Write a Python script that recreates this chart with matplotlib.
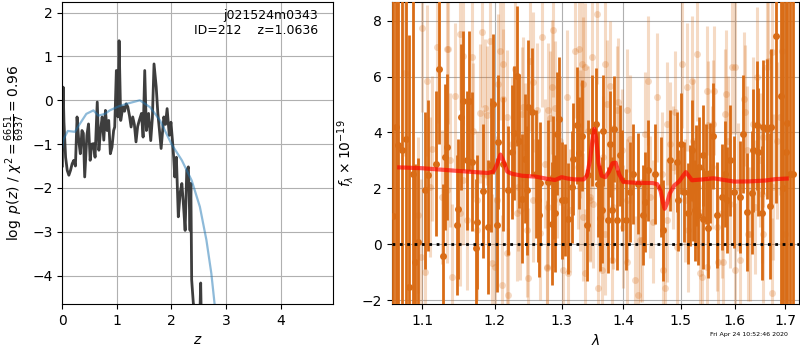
import matplotlib
matplotlib.use('Agg')
import matplotlib.pyplot as plt
from matplotlib.ticker import FixedLocator, FormatStrFormatter, NullLocator

# --- p(z) panel ---
z_chi = [0.00, 0.015, 0.03, 0.06, 0.09, 0.12, 0.15, 0.18, 0.21, 0.24,
         0.27, 0.30, 0.33, 0.36, 0.385, 0.41, 0.45, 0.48, 0.51, 0.54,
         0.57, 0.60, 0.64, 0.67, 0.70, 0.73, 0.76, 0.79, 0.82, 0.85,
         0.88, 0.91, 0.94, 0.96, 0.99, 1.02, 1.04, 1.07, 1.11, 1.14,
         1.17, 1.20, 1.23, 1.26, 1.29, 1.32, 1.35, 1.38, 1.41, 1.45,
         1.48, 1.51, 1.54, 1.58, 1.62, 1.65, 1.68, 1.72, 1.75, 1.78,
         1.81, 1.86, 1.89, 1.92, 1.96, 1.99, 2.02, 2.04, 2.06, 2.09,
         2.125, 2.16, 2.19, 2.22, 2.25, 2.28, 2.31, 2.34, 2.355, 2.37,
         2.40, 2.45, 2.52, 2.535, 2.545, 2.56]
logpz_chi = [-1.50, 0.30, -0.50, -1.30, -1.60, -1.71, -1.60, -1.45, -1.37, -1.50,
             -0.38, -0.91, -1.22, -0.69, -0.75, -1.75, -0.80, -0.54, -1.37, -1.00,
             -0.99, -1.30, -0.04, -1.14, -0.69, -0.38, -0.91, -0.23, -0.69, -0.46,
             -1.22, -1.07, -0.69, -0.61, 0.68, -0.38, 1.36, -0.46, -0.15, -0.25,
             -0.08, -0.15, -0.35, -0.61, -0.38, -0.55, -0.95, -0.60, -0.46, -0.30,
             -0.84, 0.68, -0.69, -0.30, -0.92, -0.40, 0.83, 0.31, -0.30, -0.69,
             -1.10, -0.38, -0.55, -0.19, -0.80, -0.50, -0.95, -1.30, -1.75, -1.30,
             -2.66, -2.10, -1.90, -2.40, -2.97, -1.60, -1.52, -2.97, -1.90, -4.10,
             -4.63, -4.90, -4.90, -4.17, -4.90, -4.90]

z_prior = [0.00, 0.02, 0.10, 0.23, 0.32, 0.44, 0.57, 0.66, 0.78, 0.87,
           1.03, 1.18, 1.42, 1.61, 1.79, 2.00, 2.19, 2.37, 2.52, 2.64,
           2.73, 2.79, 2.84]
logpz_prior = [-1.07, -0.90, -0.70, -0.72, -0.54, -0.31, -0.23, -0.35, -0.31, -0.23,
               -0.14, -0.08, 0.00, -0.16, -0.46, -1.00, -1.37, -1.83, -2.43, -3.19,
               -3.95, -4.65, -5.40]

# --- spectrum panel ---
dark_wave = [1.0624, 1.0655, 1.0688, 1.0731, 1.0787, 1.0825, 1.0873, 1.0903, 1.0947, 1.1036,
             1.1070, 1.1181, 1.1227, 1.1272, 1.1304, 1.1326, 1.1462, 1.1485, 1.1517, 1.1545,
             1.1601, 1.1638, 1.1671, 1.1727, 1.1741, 1.1830, 1.1906, 1.1940, 1.1968, 1.2035,
             1.2049, 1.2113, 1.2195, 1.2244, 1.2278, 1.2318, 1.2357, 1.2392, 1.2441, 1.2475,
             1.2491, 1.2541, 1.2606, 1.2630, 1.2652, 1.2667, 1.2794, 1.2845, 1.2860, 1.2902,
             1.2935, 1.2963, 1.3004, 1.3052, 1.3104, 1.3157, 1.3183, 1.3246, 1.3278, 1.3315,
             1.3396, 1.3423, 1.3487, 1.3552, 1.3585, 1.3610, 1.3639, 1.3667, 1.3749, 1.3776,
             1.3804, 1.3849, 1.3887, 1.3943, 1.3975, 1.4044, 1.4111, 1.4168, 1.4254, 1.4340,
             1.4368, 1.4426, 1.4542, 1.4650, 1.4680, 1.4807, 1.4927, 1.4950, 1.5004, 1.5052,
             1.5137, 1.5160, 1.5197, 1.5220, 1.5257, 1.5280, 1.5306, 1.5337, 1.5398, 1.5410,
             1.5453, 1.5491, 1.5534, 1.5596, 1.5659, 1.5753, 1.5814, 1.5845, 1.5909, 1.5992,
             1.6104, 1.6168, 1.6233, 1.6332, 1.6360, 1.6430, 1.6460, 1.6541, 1.6561, 1.6628,
             1.6695, 1.6720, 1.6812, 1.6907, 1.6960, 1.7021, 1.7034, 1.7100, 1.7167]
dark_flux = [1.00, 4.20, 3.54, 3.36, 3.77, -1.52, 2.52, -0.63, 0.08, 1.93,
             2.46, 2.88, 6.27, -0.43, 3.12, 3.48, 0.68, 1.27, 4.55, 5.14,
             3.00, 5.12, 2.96, -0.15, 0.80, 1.90, 0.62, 2.82, 5.02, 0.68,
             3.65, 2.88, 1.93, 3.30, 3.98, 6.01, 3.71, 1.63, 3.06, 1.93,
             4.90, 4.73, 2.52, 1.57, 1.04, 2.19, 2.23, 0.74, 2.40, 1.10,
             3.95, 4.49, 1.57, 1.57, 0.92, 2.05, 3.06, 4.25, 3.26, 3.89,
             0.68, 2.46, 4.07, 4.30, 2.17, 0.95, 1.21, 4.07, 0.86, 3.60,
             1.21, 4.13, 0.86, 3.18, 2.29, 0.88, 1.87, 2.52, 2.17, 1.04,
             1.51, 2.64, 2.52, 2.05, 0.50, 3.00, 2.94, 1.57, 3.60, 1.87,
             1.10, 1.75, 3.36, 1.93, 1.21, 2.46, 1.04, 2.76, 0.92, 3.18,
             2.52, 0.58, 2.55, 3.86, 1.04, 1.69, 2.52, 1.57, 3.00, 1.87,
             1.69, 3.95, 1.15, 1.84, 3.36, 4.25, 3.30, 1.12, 4.19, 4.13,
             1.37, 4.19, 7.46, 5.32, 2.00, 3.30, 4.33, 2.50, 2.50]
dark_err = [9.0, 9.0, 9.0, 9.0, 9.0, 9.0, 8.0, 3.5, 3.0, 2.8,
            2.7, 2.6, 2.7, 2.6, 2.6, 2.6, 2.5, 2.5, 2.6, 2.5,
            2.5, 2.5, 2.5, 2.5, 2.4, 2.4, 2.4, 2.4, 2.5, 2.4,
            2.4, 2.4, 2.3, 2.4, 2.4, 2.5, 2.4, 2.3, 2.3, 2.3,
            2.4, 2.3, 2.3, 2.2, 2.2, 2.2, 2.2, 2.2, 2.2, 2.1,
            2.2, 2.2, 2.1, 2.0, 2.0, 2.0, 2.0, 2.1, 2.0, 2.0,
            2.0, 2.0, 2.0, 2.0, 1.9, 1.9, 1.9, 2.0, 1.9, 1.9,
            1.9, 1.9, 1.8, 1.8, 1.8, 1.8, 1.8, 1.8, 1.8, 1.8,
            1.8, 1.8, 1.8, 1.8, 1.8, 1.8, 1.8, 1.8, 1.8, 1.8,
            1.8, 1.8, 1.8, 1.8, 1.8, 1.8, 1.8, 1.8, 1.8, 1.8,
            1.8, 1.8, 1.8, 1.9, 1.9, 1.9, 1.9, 1.9, 2.0, 2.0,
            2.0, 2.1, 2.1, 2.2, 2.2, 2.3, 2.3, 2.4, 2.4, 2.5,
            2.6, 2.8, 6.0, 8.0, 9.0, 9.0, 8.0, 9.0, 9.0]

light_wave = [1.0772, 1.0944, 1.0980, 1.1000, 1.1030, 1.1057, 1.1124, 1.1190, 1.1349, 1.1394,
              1.1440, 1.1508, 1.1601, 1.1671, 1.1741, 1.1811, 1.1882, 1.1930, 1.2000, 1.2049,
              1.2122, 1.2195, 1.2244, 1.2318, 1.2392, 1.2466, 1.2515, 1.2616, 1.2692, 1.2768,
              1.2845, 1.2922, 1.3026, 1.3078, 1.3209, 1.3289, 1.3342, 1.3423, 1.3503, 1.3558,
              1.3639, 1.3721, 1.3804, 1.3887, 1.3999, 1.4111, 1.4197, 1.4283, 1.4426, 1.4513,
              1.4571, 1.4688, 1.4807, 1.4927, 1.5016, 1.5106, 1.5197, 1.5287, 1.5379, 1.5472,
              1.5596, 1.5690, 1.5814, 1.5909, 1.6005, 1.6104, 1.6201, 1.6299, 1.6430, 1.6528,
              1.6628, 1.6728, 1.6826, 1.6927, 1.7000,
              1.1102, 1.1258, 1.1371, 1.1554, 1.1693, 1.1835, 1.2025, 1.2171, 1.2342, 1.2441,
              1.2566, 1.2743, 1.2794, 1.2974, 1.3131, 1.3262, 1.3449, 1.3667, 1.3832, 1.3971,
              1.4055, 1.4368, 1.4454, 1.4658, 1.4746, 1.4865, 1.5075, 1.5226, 1.5318, 1.5565,
              1.5753, 1.5880, 1.6071, 1.6233, 1.6396, 1.6495, 1.6761, 1.6895,
              1.1334, 1.1554, 1.2074, 1.2293, 1.2122, 1.1859, 1.1788, 1.2416, 1.2566, 1.2820,
              1.2898, 1.2880, 1.2668, 1.2367, 1.2171, 1.1955, 1.1741, 1.1509, 1.1334, 1.2491,
              1.2770, 1.2098,
              1.2872, 1.3278, 1.3315, 1.3476, 1.3369, 1.3694, 1.3776, 1.3915, 1.4055, 1.2794,
              1.3289, 1.3449, 1.3585, 1.3369, 1.3104, 1.4055, 1.4254, 1.4311, 1.3342, 1.3832,
              1.3694, 1.5614, 1.5955, 1.5829, 1.6188, 1.6660, 1.6740, 1.4896, 1.4746, 1.5503,
              1.6365, 1.6561, 1.5137, 1.5472, 1.5784, 1.6005, 1.6561, 1.4717, 1.5349, 1.5659,
              1.6266]
light_flux = [6.14, 1.04, -0.46, 7.75, -1.00, 5.86, 3.42, 7.05, 6.99, -1.17,
              5.32, 7.52, 0.86, 6.69, 1.57, 7.61, 4.61, 7.29, -0.81, 5.74,
              6.45, -1.82, 3.60, 1.10, 4.67, 0.50, 6.57, 4.79, 7.40, -0.81,
              5.62, 2.52, -0.93, 5.26, 6.93, 3.95, 5.74, 4.07, 1.45, 8.24,
              -0.93, 5.02, -0.57, 4.79, 0.62, 3.77, -1.29, 0.14, 5.86, 0.80,
              5.26, -0.93, 3.60, -0.10, 6.45, 5.62, 5.86, 6.81, -1.17, 5.50,
              4.31, -0.63, 4.67, 1.45, 6.33, -0.57, 4.73, 0.38, 5.98, 1.81,
              6.33, -1.76, 3.71, 6.93, 0.38,
              2.05, 1.69, 3.00, 2.29, 4.07, 2.52, 1.57, 4.55, 2.05, 3.48,
              1.57, 2.88, 1.33, 3.71, 1.21, 2.76, 1.57, 3.12, 2.05, 3.36,
              1.57, 3.95, 1.69, 2.52, 0.86, 2.76, 1.57, 3.71, 2.05, 2.76,
              1.10, 3.71, 2.05, 3.36, 1.33, 3.00, 2.05, 4.55,
              6.99, 6.75, 6.93, 6.27, 5.20, 4.86, 4.68, 4.90, 5.80, 4.50,
              4.86, 1.57, 0.39, 1.21, -0.33, -0.69, 0.50, 1.10, 1.93, -1.21,
              -0.86, -1.46,
              7.67, 6.99, 6.45, 6.71, 6.33, 6.45, 5.68, 5.08, 4.79, 4.79,
              2.05, 1.69, -1.58, -1.04, -1.04, -0.63, -1.82, 0.14, 0.98, 1.33,
              0.38, 5.50, 6.33, 5.38, 5.20, 6.57, 6.87, 4.73, 4.31, 4.25,
              4.31, 3.83, 0.50, -0.81, -0.63, -0.93, 0.38, -1.58, -1.04, 0.62,
              0.38]
light_err = [3.0, 2.8, 2.8, 3.0, 2.8, 2.7, 2.6, 2.7, 2.7, 2.6,
             2.6, 2.7, 2.5, 2.6, 2.5, 2.7, 2.5, 2.6, 2.5, 2.5,
             2.5, 2.4, 2.4, 2.4, 2.4, 2.4, 2.5, 2.4, 2.5, 2.4,
             2.4, 2.3, 2.3, 2.4, 2.4, 2.3, 2.4, 2.3, 2.3, 2.5,
             2.3, 2.3, 2.3, 2.3, 2.2, 2.3, 2.3, 2.2, 2.3, 2.2,
             2.3, 2.2, 2.2, 2.2, 2.3, 2.3, 2.3, 2.4, 2.3, 2.3,
             2.3, 2.3, 2.3, 2.3, 2.4, 2.4, 2.4, 2.4, 2.5, 2.5,
             2.6, 2.7, 2.8, 3.0, 3.0,
             2.5, 2.4, 2.4, 2.3, 2.4, 2.3, 2.3, 2.4, 2.3, 2.3,
             2.2, 2.3, 2.2, 2.3, 2.2, 2.2, 2.2, 2.2, 2.2, 2.2,
             2.2, 2.2, 2.2, 2.2, 2.2, 2.2, 2.2, 2.2, 2.2, 2.2,
             2.3, 2.3, 2.3, 2.3, 2.4, 2.4, 2.6, 2.8,
             2.6, 2.5, 2.5, 2.5, 2.5, 2.5, 2.5, 2.5, 2.5, 2.4,
             2.4, 2.4, 2.4, 2.5, 2.5, 2.5, 2.5, 2.6, 2.6, 2.5,
             2.4, 2.5,
             2.4, 2.3, 2.3, 2.3, 2.3, 2.3, 2.3, 2.3, 2.2, 2.4,
             2.3, 2.3, 2.3, 2.3, 2.3, 2.2, 2.2, 2.2, 2.3, 2.2,
             2.2, 2.3, 2.4, 2.3, 2.4, 2.6, 2.6, 2.2, 2.2, 2.3,
             2.4, 2.5, 2.2, 2.3, 2.3, 2.4, 2.5, 2.2, 2.3, 2.3,
             2.4]

model_wave = [1.070, 1.100, 1.150, 1.190, 1.198, 1.203, 1.208, 1.213, 1.218, 1.225,
              1.240, 1.260, 1.280, 1.290, 1.300, 1.310, 1.320, 1.335, 1.340, 1.345,
              1.349, 1.352, 1.355, 1.359, 1.364, 1.370, 1.376, 1.382, 1.387, 1.393,
              1.400, 1.420, 1.450, 1.458, 1.464, 1.468, 1.471, 1.475, 1.480, 1.488,
              1.497, 1.504, 1.509, 1.514, 1.520, 1.540, 1.560, 1.580, 1.600, 1.630,
              1.660, 1.680, 1.703]
model_flux = [2.75, 2.72, 2.62, 2.55, 2.60, 2.85, 3.21, 2.95, 2.60, 2.52,
              2.45, 2.42, 2.33, 2.30, 2.40, 2.35, 2.32, 2.32, 2.45, 3.00,
              3.70, 4.13, 3.80, 2.90, 2.45, 2.40, 2.60, 2.90, 2.92, 2.50,
              2.23, 2.20, 2.19, 2.15, 1.90, 1.50, 1.27, 1.45, 1.81, 2.10,
              2.25, 2.45, 2.58, 2.45, 2.29, 2.32, 2.36, 2.30, 2.24, 2.25,
              2.28, 2.33, 2.35]

wave_ticks = [1.1, 1.2, 1.3, 1.4, 1.5, 1.6, 1.7]

orange = '#d96c16'

fig = plt.figure(figsize=(8, 3.5), dpi=100)

# p(z)
ax1 = fig.add_axes([0.0779, 0.1314, 0.3384, 0.8637])
ax1.plot(z_chi, logpz_chi, color='0.2', lw=2, alpha=0.95)
ax1.plot(z_prior, logpz_prior, color='tab:blue', lw=1.6, alpha=0.5)
ax1.set_xlim(0, 4.96)
ax1.set_ylim(-4.65, 2.25)
ax1.grid(True)
ax1.set_axisbelow(True)
ax1.set_xlabel('$z$')
ax1.set_ylabel(r'$\log\ p(z)$ / $\chi^2=\frac{6651}{6937}=0.96$')
ax1.text(0.945, 0.975, 'j021524m0343\nID=212    z=1.0636', transform=ax1.transAxes,
         ha='right', va='top', fontsize=9)

# spectrum
ax2 = fig.add_axes([0.4896, 0.1314, 0.5092, 0.8637])
ax2.errorbar(light_wave, light_flux, yerr=light_err, fmt='o', color=orange,
             alpha=0.25, ms=5, lw=2.2, mew=0, zorder=2)
ax2.errorbar(dark_wave, dark_flux, yerr=dark_err, fmt='o', color=orange,
             ms=5, lw=2.0, mew=0, zorder=3)
ax2.plot(model_wave, model_flux, color='red', lw=3, alpha=0.65, zorder=5)
ax2.axhline(0, color='k', linestyle=':', lw=2, zorder=4)
ax2.set_xscale('log')
ax2.xaxis.set_major_locator(FixedLocator(wave_ticks))
ax2.xaxis.set_major_formatter(FormatStrFormatter('%.1f'))
ax2.xaxis.set_minor_locator(NullLocator())
ax2.set_xlim(1.0603, 1.7284)
ax2.set_ylim(-2.14, 8.68)
ax2.grid(True, zorder=6)
ax2.set_xlabel(r'$\lambda$')
ax2.set_ylabel(r'$f_\lambda\times10^{-19}$')

fig.text(0.985, 0.045, 'Fri Apr 24 10:52:46 2020', ha='right', va='center', fontsize=4.5)

fig.savefig('out.png', dpi=100)
